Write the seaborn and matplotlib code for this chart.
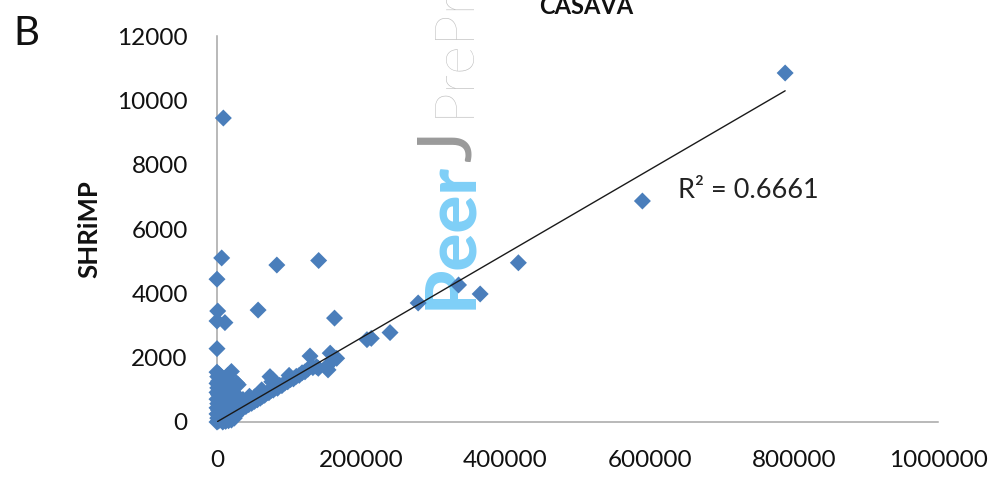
import numpy as np
import pandas as pd
import matplotlib
matplotlib.use("Agg")
import matplotlib.pyplot as plt
import seaborn as sns

# ---- data ----
casava_outliers = [788000, 590000, 418000, 365000, 335000, 279000, 240000, 214000, 208000,
                   163000, 141000, 83000, 6500, 8800, 0, 57000, 1000, 0, 11000, 0,
                   129000, 157000, 161000, 152000, 138000, 20000, 29500, 73500,
                   166000, 154000, 140500, 27300, 77700]
shrimp_outliers = [10850, 6870, 4950, 3980, 4260, 3700, 2780, 2600, 2560,
                   3230, 5020, 4880, 5100, 9450, 4440, 3480, 3450, 3140, 3090, 2280,
                   2050, 2140, 1930, 1720, 1720, 1570, 1160, 1410,
                   1980, 1620, 1670, 1210, 1310]

casava_line = [22000, 24000, 26000, 28000, 30000, 32000, 34000, 36000, 38000, 40000,
               42000, 44000, 46000, 48000, 50000, 52000, 54000, 56000, 58000, 60000,
               63000, 66000, 69000, 72000, 75000, 78000, 81000, 84000, 87000, 90000,
               94000, 98000, 102000, 106000, 110000, 114000, 118000, 122000, 126000, 133000,
               45000, 62000, 36000, 30000, 52000, 76000, 100000]
shrimp_line = [300, 260, 360, 330, 420, 380, 470, 430, 520, 480,
               560, 540, 620, 580, 660, 640, 700, 690, 760, 740,
               800, 830, 900, 910, 980, 990, 1060, 1050, 1140, 1130,
               1210, 1250, 1320, 1340, 1420, 1450, 1530, 1560, 1640, 1690,
               800, 1000, 700, 620, 780, 1250, 1450]

casava_low = [0, 2000, 4000, 1000, 3000, 0, 5000, 2000, 0, 4000, 1000, 3000, 0, 5000,
              2000, 0, 4000, 1000, 3000, 0, 2000, 5000, 1000, 3000, 0,
              7000, 8000, 6000, 9000, 7000, 6000, 10000, 12000, 15000, 11000, 14000, 13000,
              8000, 12000, 16000, 20000, 24000, 26000, 10000, 14000, 18000, 22000, 9000,
              12000, 16000, 20000, 10000, 14000, 18000, 8000, 12000, 16000, 20000, 24000,
              22000, 25000]
shrimp_low = [0, 30, 60, 120, 180, 250, 300, 370, 440, 500, 570, 640, 710, 780,
              850, 920, 990, 1060, 1130, 1200, 1270, 1340, 1410, 1480, 1550,
              150, 400, 650, 900, 1150, 1400, 1250, 1350, 1450, 1000, 800, 1100,
              0, 20, 40, 60, 120, 200, 100, 160, 230, 200, 250,
              330, 300, 280, 500, 550, 450, 700, 750, 650, 600, 480,
              750, 880]

trend_slope = 0.01306
trend_intercept = 5.0
r_squared_label = "R² = 0.6661"

x_ticks = [0, 200000, 400000, 600000, 800000, 1000000]
y_ticks = [0, 2000, 4000, 6000, 8000, 10000, 12000]

df = pd.DataFrame({
    "CASAVA": casava_outliers + casava_line + casava_low,
    "SHRiMP": shrimp_outliers + shrimp_line + shrimp_low,
})

trend_x = [df["CASAVA"].min(), df["CASAVA"].max()]
trend_df = pd.DataFrame({"x": trend_x,
                         "y": [trend_intercept + trend_slope * v for v in trend_x]})

# ---- style ----
sns.set_style("white")
plt.rcParams["font.family"] = ["Lato", "DejaVu Sans"]

W, H = 1003, 491
fig = plt.figure(figsize=(W / 100, H / 100), dpi=100)
ax = fig.add_axes([217 / W, 1 - 422 / H, (938 - 217) / W, (422 - 36) / H])
ax.patch.set_alpha(0)

blue = "#4A7EBB"
sns.scatterplot(data=df, x="CASAVA", y="SHRiMP", ax=ax, marker="D", s=75,
                color=blue, edgecolor="none", linewidth=0, clip_on=False, zorder=3)
sns.lineplot(data=trend_df, x="x", y="y", ax=ax, color="#1a1a1a", linewidth=1.0,
             zorder=4)

ax.set_xlim(0, 1000000)
ax.set_ylim(0, 12000)
ax.set_xticks(x_ticks)
ax.set_yticks(y_ticks)
ax.set_xticklabels([str(v) for v in x_ticks])
ax.set_yticklabels([str(v) for v in y_ticks])

for side in ["top", "right"]:
    ax.spines[side].set_visible(False)
for side in ["left", "bottom"]:
    ax.spines[side].set_color("#a6a6a6")
    ax.spines[side].set_linewidth(1.1)
ax.tick_params(axis="both", which="major", direction="out", length=7, width=1.1,
               color="#a6a6a6", labelsize=17.5, labelcolor="#111111")
ax.tick_params(axis="x", pad=13)
ax.tick_params(axis="y", pad=14)

ax.set_xlabel("")
ax.set_ylabel("SHRiMP", fontsize=18.5, fontweight="bold", color="#111111")
ax.yaxis.set_label_coords(-0.16, 0.5)

ax.text(639400, 6967, r_squared_label, fontsize=19.5, color="#222222",
        ha="left", va="baseline")

fig.text(586 / W, 1 - 14 / H, "CASAVA", ha="center", va="baseline",
         fontsize=17, fontweight="bold", color="#111111")
fig.text(13 / W, 1 - 45 / H, "B", ha="left", va="baseline", fontsize=29,
         color="#111111")

# watermark
fig.text(471 / W, 1 - 309 / H, "Peer", rotation=90, rotation_mode="anchor",
         ha="left", va="baseline", fontsize=51, fontweight="black",
         color="#7fcff7", zorder=-5)
fig.text(471 / W, 1 - 162 / H, "J", rotation=90, rotation_mode="anchor",
         ha="left", va="baseline", fontsize=54, color="#9a9a9a", zorder=-5)
fig.text(469 / W, 1 - 117 / H, "PrePrints", rotation=90, rotation_mode="anchor",
         ha="left", va="baseline", fontsize=40, fontweight="light",
         color="#bebebe", zorder=-5)

fig.savefig("out.png", dpi=100)
